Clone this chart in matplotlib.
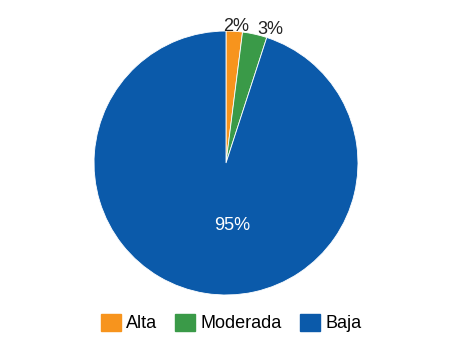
import numpy as np
import matplotlib
matplotlib.use("Agg")
import matplotlib.pyplot as plt
from matplotlib.patches import Patch

categories = ["Alta", "Moderada", "Baja"]
values = [2, 3, 95]
labels = ["2%", "3%", "95%"]
colors = ["#F7941D", "#3A9A48", "#0B5AAA"]

plt.rcParams['font.family'] = ['Liberation Sans', 'DejaVu Sans']

fig = plt.figure(figsize=(4.68, 3.46), dpi=100)
fig.patch.set_facecolor("white")
ax = fig.add_axes([0.2009, 0.1474, 0.564, 0.763])
wedges, _ = ax.pie(values, colors=colors, startangle=90, counterclock=False,
                   wedgeprops=dict(linewidth=0.6, edgecolor="white"))
ax.set_xlim(-1, 1)
ax.set_ylim(-1, 1)
ax.set_aspect("equal")

# label placement (style): data-coordinate positions relative to pie centre
label_pos = [(0.076, 1.035), (0.335, 1.01), (0.05, -0.47)]
label_col = ["#222222", "#222222", "white"]
for lab, (x, y), c in zip(labels, label_pos, label_col):
    ax.text(x, y, lab, ha="center", va="center", color=c, fontsize=13, clip_on=False)

handles = [Patch(facecolor=c, edgecolor=c) for c in colors]
fig.legend(handles, categories, loc="center", bbox_to_anchor=(231 / 468, 1 - 323 / 346),
           ncol=3, frameon=False, fontsize=13, handlelength=1.1, handleheight=1.1,
           handletextpad=0.3, columnspacing=1.0, borderpad=0)

fig.savefig("out.png", dpi=100, facecolor="white")
